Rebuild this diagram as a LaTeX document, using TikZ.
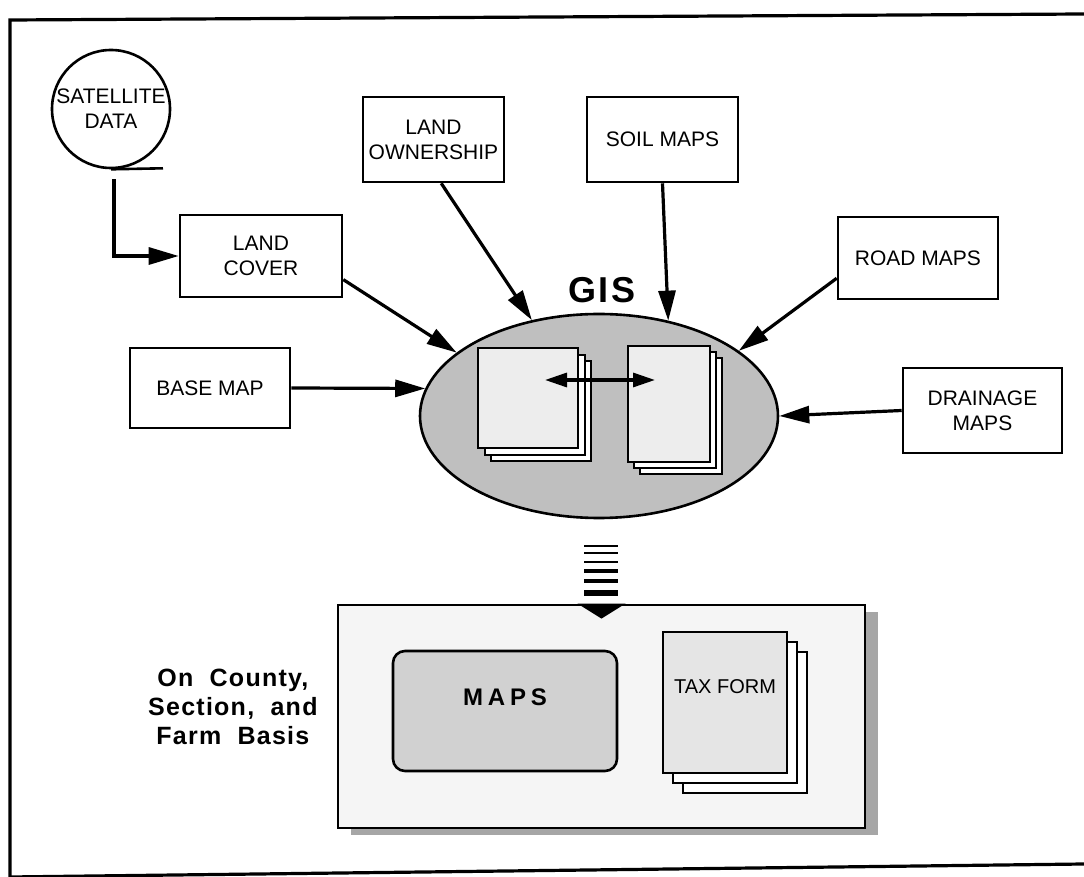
\documentclass[tikz,border=0pt]{standalone}
\usepackage{fontspec}
\setmainfont{Liberation Sans}
\usetikzlibrary{arrows.meta,positioning,shapes.geometric,shadows,calc}
\tikzset{
  srcbox/.style={draw, line width=1.3pt, fill=white, align=center, inner sep=0pt,
    font=\fontsize{10.5}{12.5}\selectfont},
  feed/.style={-{Triangle[length=15pt,width=8.5pt]}, line width=1.6pt},
  swap/.style={{Triangle[length=11pt,width=7pt]}-{Triangle[length=11pt,width=7pt]}, line width=1.6pt},
  sheet/.style={draw, line width=1.1pt, fill=black!7, inner sep=0pt},
  backcopy/.style={copy shadow={shadow xshift=#1, shadow yshift=-#1, fill=white, draw=black, line width=1.1pt}},
}
\newcommand{\spaced}[1]{\addfontfeature{LetterSpace=#1}}

\begin{document}
\begin{tikzpicture}[x=0.5pt, y=-0.5pt]
\useasboundingbox (0,0) rectangle (1084,877);
% --- page frame ---
\draw[line width=1.6pt] (1084,14) -- (10,20) -- (10,877);
\draw[line width=1.6pt] (10,877) -- (1084,864);
% --- sources ---
\node[circle, draw, line width=1.3pt, minimum size=59pt, inner sep=0pt, align=center,
  font=\fontsize{10.5}{12.5}\selectfont] (sat) at (111,109) {SATELLITE\\DATA};
\draw[line width=1.3pt] (sat.south) -- ++(52,-1);
\node[srcbox, minimum width=81pt, minimum height=41pt] (lcover) at (261,256) {LAND\\COVER};
\node[srcbox, minimum width=70.5pt, minimum height=42.5pt] (own) at (433.5,139.5) {LAND\\OWNERSHIP};
\node[srcbox, minimum width=75.5pt, minimum height=42.5pt] (soil) at (662.5,139.5) {SOIL MAPS};
\node[srcbox, minimum width=80pt, minimum height=41pt] (road) at (918,258) {ROAD MAPS};
\node[srcbox, minimum width=80pt, minimum height=40pt] (base) at (210,388) {BASE MAP};
\node[srcbox, minimum width=79.5pt, minimum height=42.5pt] (drain) at (982.5,410.5) {DRAINAGE\\MAPS};
% --- GIS ---
\node[ellipse, draw, line width=1.3pt, fill=black!25, minimum width=179pt, minimum height=102pt,
  inner sep=0pt] (gis) at (599,416) {};
\node[font=\bfseries\fontsize{18}{20}\selectfont\spaced{8}] (gislabel) at (602,290) {GIS};
\node[sheet, minimum width=50pt, minimum height=50pt, backcopy=6.5pt, backcopy=3.5pt] (lpage) at (528,398) {};
\node[sheet, minimum width=41pt, minimum height=58pt, backcopy=6pt, backcopy=3pt] (rpage) at (669,404) {};
\draw[swap] ($(lpage.center)+(17,-18)$) -- ($(lpage.center -| rpage.center)+(-14,-18)$);
% --- inputs ---
\draw[feed] ($(sat.south)+(3,10)$) |- (lcover.west);
\draw[feed] (lcover.-16) -- (gis.156);
\draw[feed] (own.-80) -- (gis.125);
\draw[feed] (soil.south) -- (gis.54);
\draw[feed] (road.194) -- (gis.25);
\draw[feed] (base.east) -- (gis.171);
\draw[feed] (drain.west) -- (gis.east);
% --- output ---
\node[draw, line width=1.4pt, fill=black!4, minimum width=263.5pt, minimum height=111.5pt,
  drop shadow={shadow xshift=6.5pt, shadow yshift=-3.5pt, fill=black!35, opacity=1}] (outbox) at (601.5,716.5) {};
\foreach \y/\w in {546/0.8, 553/1.1, 562/1.4, 571/1.8, 581/2.4, 593/3.0}
  \draw[line width=\w pt] (584,\y) -- (618,\y);
\fill ($(outbox.north)+(-24,0)$) -- ($(outbox.north)+(24,0)$) -- ($(outbox.north)+(0,15)$) -- cycle;
\node[draw, line width=1.3pt, rounded corners=6pt, fill=black!18, minimum width=112pt, minimum height=60pt,
  text height=8.5pt, text depth=14pt, font=\bfseries\fontsize{12}{14}\selectfont\spaced{20}] (maps) at (505,711) {MAPS};
\node[sheet, fill=black!10, minimum width=62pt, minimum height=70.5pt, backcopy=10pt, backcopy=5pt,
  text height=6.5pt, text depth=15pt, font=\fontsize{10}{12}\selectfont] (tax) at (725,702.5) {TAX FORM};
\node[left=6pt of outbox, yshift=5pt, align=center, font=\bfseries\fontsize{12.5}{14.5}\selectfont\spaced{5}]
  (basis) {On\ \ County,\\Section,\ \ and\\Farm\ \ Basis};
\end{tikzpicture}
\end{document}
